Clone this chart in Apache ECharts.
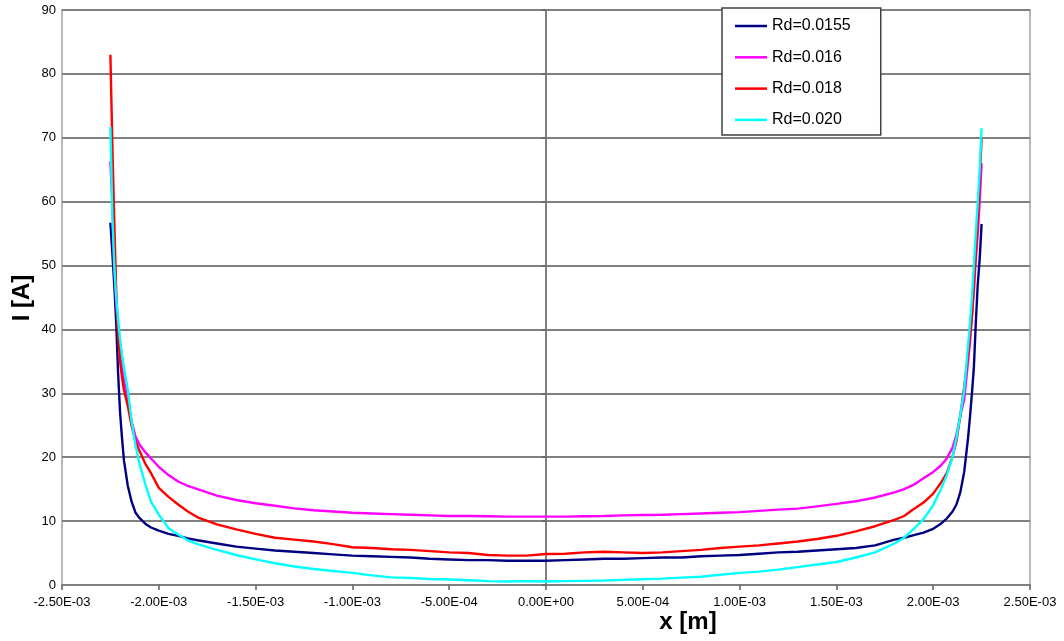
<!DOCTYPE html>
<html>
<head>
<meta charset="utf-8">
<script src="https://cdn.jsdelivr.net/npm/echarts@6/dist/echarts.min.js"></script>
<style>
html,body{margin:0;padding:0;background:#fff;}
#chart{width:1064px;height:641px;}
</style>
</head>
<body>
<div id="chart"></div>
<script>
// x positions in metres
const xPos = [
  -2.25e-3, -2.24e-3, -2.23e-3, -2.22e-3, -2.21e-3, -2.20e-3, -2.19e-3, -2.18e-3, -2.16e-3, -2.14e-3,
  -2.12e-3, -2.10e-3, -2.07e-3, -2.04e-3, -2.00e-3, -1.95e-3, -1.90e-3, -1.85e-3, -1.80e-3, -1.70e-3,
  -1.60e-3, -1.50e-3, -1.40e-3, -1.30e-3, -1.20e-3, -1.10e-3, -1.00e-3, -0.90e-3, -0.80e-3, -0.70e-3,
  -0.60e-3, -0.50e-3, -0.40e-3, -0.30e-3, -0.20e-3, -0.10e-3,
  0,
  0.10e-3, 0.20e-3, 0.30e-3, 0.40e-3, 0.50e-3, 0.60e-3, 0.70e-3, 0.80e-3, 0.90e-3, 1.00e-3,
  1.10e-3, 1.20e-3, 1.30e-3, 1.40e-3, 1.50e-3, 1.60e-3, 1.70e-3, 1.80e-3,
  1.85e-3, 1.90e-3, 1.95e-3, 2.00e-3,
  2.04e-3, 2.07e-3, 2.10e-3,
  2.12e-3, 2.14e-3, 2.16e-3, 2.18e-3,
  2.19e-3, 2.20e-3, 2.21e-3, 2.22e-3, 2.23e-3, 2.24e-3, 2.25e-3
];

const rd0155 = [
  56.7, 52, 47, 41, 33, 27, 23, 19.5, 15.5, 13, 11.3, 10.5, 9.6, 9.0, 8.5, 8.0, 7.7, 7.3, 7.0, 6.5,
  6.0, 5.7, 5.4, 5.2, 5.0, 4.8, 4.6, 4.5, 4.4, 4.3, 4.1, 4.0, 3.9, 3.9, 3.8, 3.8,
  3.8,
  3.9, 4.0, 4.1, 4.1, 4.2, 4.3, 4.3, 4.5, 4.6, 4.7,
  4.9, 5.1, 5.2, 5.4, 5.6, 5.8, 6.2, 7.1,
  7.4, 7.8, 8.2, 8.8,
  9.6, 10.4, 11.5,
  12.6, 14.5, 17.7, 23,
  26.3, 30, 34, 41, 47, 51, 56.5
];

const rd016 = [
  66.3, 60, 50, 44, 40, 37, 34, 32, 29, 25.5, 23.2, 22, 20.8, 19.8, 18.5, 17.2, 16.2, 15.5, 15.0, 14.0,
  13.3, 12.8, 12.4, 12.0, 11.7, 11.5, 11.3, 11.2, 11.1, 11.0, 10.9, 10.8, 10.8, 10.75, 10.7, 10.7,
  10.7,
  10.7, 10.75, 10.8, 10.9, 10.95, 11.0, 11.1, 11.2, 11.3, 11.4,
  11.6, 11.8, 11.95, 12.3, 12.7, 13.1, 13.7, 14.5,
  15.0, 15.7, 16.7, 17.7,
  18.7, 19.8, 21.5,
  23.5, 26.5, 29, 35,
  38, 42, 46, 51, 55, 60, 66
];

const rd018 = [
  83, 69, 57, 46, 39, 35, 32.5, 30.5, 28, 24.8, 22.5, 21, 19, 17.5, 15.2, 13.8, 12.6, 11.5, 10.6, 9.5,
  8.7, 8.0, 7.4, 7.1, 6.8, 6.4, 5.9, 5.8, 5.6, 5.5, 5.3, 5.1, 5.0, 4.7, 4.6, 4.6,
  4.85,
  4.9, 5.1, 5.2, 5.1, 5.0, 5.1, 5.3, 5.5, 5.8, 6.0,
  6.2, 6.5, 6.8, 7.2, 7.7, 8.4, 9.2, 10.2,
  10.8, 11.9, 12.9, 14.3,
  16.0, 17.5, 20.1,
  22.5, 26.5, 31, 36,
  39, 42, 47, 52, 57, 63, 70
];

const rd020 = [
  71.7, 58, 50, 45, 41.5, 38.5, 36, 34, 30.5, 25.5, 21.8, 19, 15.8, 13, 11, 8.9, 7.9, 7.0, 6.4, 5.5,
  4.7, 4.0, 3.4, 2.9, 2.5, 2.2, 1.9, 1.5, 1.2, 1.1, 0.95, 0.85, 0.75, 0.6, 0.55, 0.6,
  0.55,
  0.6, 0.65, 0.7, 0.8, 0.9, 1.0, 1.15, 1.3, 1.6, 1.9,
  2.1, 2.4, 2.8, 3.2, 3.6, 4.3, 5.1, 6.5,
  7.4, 8.8, 10.3, 12.5,
  15.0, 17.2, 20.1,
  23, 26.6, 30.5, 37.5,
  41, 45, 50, 55, 60, 65, 71.5
];

const seriesNames = ['Rd=0.0155', 'Rd=0.016', 'Rd=0.018', 'Rd=0.020'];
const seriesColors = ['#000080', '#ff00ff', '#ff0000', '#00ffff'];
const seriesValues = [rd0155, rd016, rd018, rd020];

const X_MIN = -2.5e-3, X_MAX = 2.5e-3, X_STEP = 0.5e-3;
const xTickLabels = ['-2.50E-03', '-2.00E-03', '-1.50E-03', '-1.00E-03', '-5.00E-04', '0.00E+00',
  '5.00E-04', '1.00E-03', '1.50E-03', '2.00E-03', '2.50E-03'];

const FONT = "'Liberation Sans', Arial, sans-serif";

const chart = echarts.init(document.getElementById('chart'), null, {renderer: 'canvas'});
chart.setOption({
  animation: false,
  backgroundColor: '#ffffff',
  textStyle: {fontFamily: FONT},
  grid: {
    left: 62, right: 34, top: 10, bottom: 56,
    show: true, borderColor: '#b8b8b8', borderWidth: 2, backgroundColor: 'transparent'
  },
  legend: {
    orient: 'vertical',
    left: 722, top: 8,
    backgroundColor: '#ffffff',
    borderColor: '#404040', borderWidth: 1.5, borderRadius: 0,
    padding: [10, 30, 7, 13],
    icon: 'rect',
    itemWidth: 32, itemHeight: 2.5, itemGap: 15.3,
    textStyle: {fontSize: 16, color: '#000', fontFamily: FONT},
    data: seriesNames
  },
  xAxis: {
    type: 'value', min: X_MIN, max: X_MAX, interval: X_STEP,
    axisLine: {show: true, onZero: false, lineStyle: {color: '#808080', width: 2}},
    axisTick: {show: true, length: 5, lineStyle: {color: '#606060', width: 1.5}},
    axisLabel: {
      fontSize: 13, color: '#000', margin: 11, fontFamily: FONT,
      formatter: function (v) { return xTickLabels[Math.round((v - X_MIN) / X_STEP)]; }
    },
    splitLine: {show: false}
  },
  yAxis: {
    type: 'value', min: 0, max: 90, interval: 10,
    axisLine: {show: true, onZero: true, lineStyle: {color: '#808080', width: 2}},
    axisTick: {show: true, length: 4, lineStyle: {color: '#606060', width: 1.5}},
    axisLabel: {fontSize: 13, color: '#000', margin: 6, fontFamily: FONT},
    splitLine: {show: true, lineStyle: {color: '#808080', width: 2}}
  },
  graphic: [
    {type: 'text', x: 22, y: 298, rotation: Math.PI / 2,
      style: {text: 'I [A]', font: "bold 24px " + FONT, fill: '#000', textAlign: 'center', textVerticalAlign: 'middle'}},
    {type: 'text', x: 688, y: 622,
      style: {text: 'x [m]', font: "bold 24px " + FONT, fill: '#000', textAlign: 'center', textVerticalAlign: 'middle'}}
  ],
  series: seriesNames.map(function (name, k) {
    return {
      name: name, type: 'line', symbol: 'none', showSymbol: false,
      lineStyle: {color: seriesColors[k], width: 2.4},
      itemStyle: {color: seriesColors[k]},
      data: xPos.map(function (x, i) { return [x, seriesValues[k][i]]; })
    };
  })
});
</script>
</body>
</html>
